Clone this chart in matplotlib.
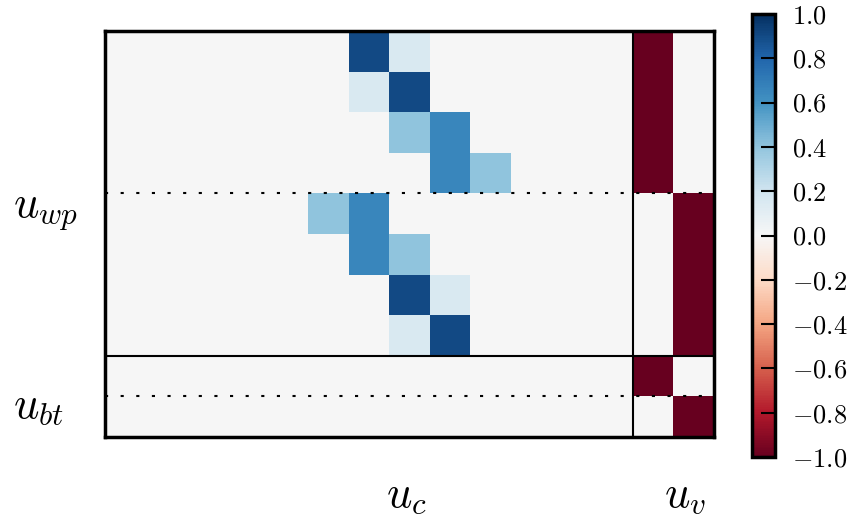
import numpy as np
import matplotlib
matplotlib.use("Agg")
import matplotlib.pyplot as plt

plt.rcParams['font.family'] = 'serif'
plt.rcParams['font.serif'] = ['cmr10']
plt.rcParams['mathtext.fontset'] = 'cm'
plt.rcParams['axes.formatter.use_mathtext'] = True

# u_c block: 10 rows x 13 columns (mostly zero)
uc_rows = [
    {6: 0.9, 7: 0.15},
    {6: 0.15, 7: 0.9},
    {7: 0.4, 8: 0.65},
    {8: 0.65, 9: 0.4},
    {5: 0.4, 6: 0.65},
    {6: 0.65, 7: 0.4},
    {7: 0.9, 8: 0.15},
    {7: 0.15, 8: 0.9},
    {},
    {},
]
# u_v block: 10 rows x 2 columns
uv_rows = [
    [-1, 0], [-1, 0], [-1, 0], [-1, 0],
    [0, -1], [0, -1], [0, -1], [0, -1],
    [-1, 0],
    [0, -1],
]
n_uc = 13
row_labels = [r'$u_{wp}$', r'$u_{bt}$']
row_label_pos = [4.09, 9.03]
col_labels = [r'$u_c$', r'$u_v$']
col_label_pos = [6.41, 13.28]
cbar_ticks = [-1.0, -0.8, -0.6, -0.4, -0.2, 0.0, 0.2, 0.4, 0.6, 0.8, 1.0]

uc = np.zeros((len(uc_rows), n_uc))
for i, r in enumerate(uc_rows):
    for j, v in r.items():
        uc[i, j] = v
mat = np.hstack([uc, np.array(uv_rows, dtype=float)])
nr, nc = mat.shape

fig = plt.figure(figsize=(8.6, 5.18), dpi=100)
ax = fig.add_axes([105/860, (518-437)/518, 609/860, 406/518])
im = ax.imshow(mat, cmap='RdBu', vmin=-1, vmax=1, interpolation='nearest', aspect='auto')

ax.axvline(n_uc - 0.5, color='k', lw=1.5)
ax.axhline(7.5, color='k', lw=1.5)
ax.axhline(3.5, color='k', lw=1.5, ls=(0, (1.5, 6)))
ax.axhline(8.5, color='k', lw=1.5, ls=(0, (1.5, 6)))

ax.set_xticks([])
ax.set_yticks([])
for s in ax.spines.values():
    s.set_linewidth(2.5)

for lab, p in zip(row_labels, row_label_pos):
    ax.text(-2.77, p, lab, fontsize=32, ha='left', va='baseline', clip_on=False)
for lab, p in zip(col_labels, col_label_pos):
    ax.text(p, 11.2, lab, fontsize=32, ha='left', va='baseline', clip_on=False)

cax = fig.add_axes([752/860, (518-457)/518, 23/860, 443/518])
cb = fig.colorbar(im, cax=cax, ticks=cbar_ticks)
cb.outline.set_linewidth(2.5)
cax.tick_params(direction='in', length=10, width=1.5, labelsize=19, pad=12)
cax.yaxis.set_major_formatter(matplotlib.ticker.FuncFormatter(lambda v, p: r'$%.1f$' % v if v >= 0 else r'$-%.1f$' % abs(v)))

fig.savefig('out.png', dpi=100)
